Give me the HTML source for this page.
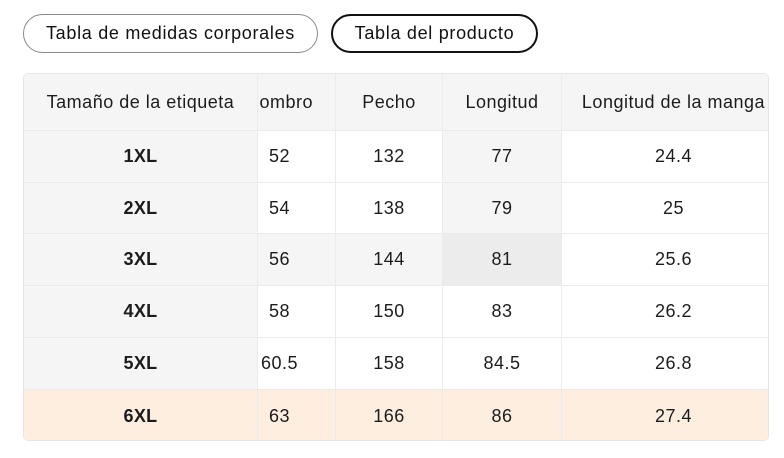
<!DOCTYPE html>
<html><head><meta charset="utf-8">
<style>
html,body{margin:0;padding:0;background:#fff;}
body{width:784px;height:458px;position:relative;overflow:hidden;font-family:"Liberation Sans",Arial,sans-serif;color:#1c1c1c;}
.btn{position:absolute;top:14px;height:39px;box-sizing:border-box;border-radius:20px;font-size:18px;letter-spacing:0.7px;display:flex;align-items:center;justify-content:center;background:#fff;color:#111;}
#tbl{position:absolute;left:23px;top:73px;width:746px;height:368px;box-sizing:border-box;border:1px solid #e6e6e6;border-radius:5px;overflow:hidden;background:#fff;}
.c{position:absolute;box-sizing:border-box;border-right:1px solid #ebebeb;border-bottom:1px solid #ebebeb;display:flex;align-items:center;justify-content:center;font-size:18px;letter-spacing:0.5px;white-space:nowrap;}
.lab{font-weight:bold;background:#f5f5f5;z-index:2;letter-spacing:0.3px;}
.hd{background:#f5f5f5;}
.g{background:#f5f5f5;}
.h{background:#ececec;}
.p{background:#fdeee0;}
</style></head><body>
<div class="btn" style="left:23px;width:295px;border:1px solid #8a8a8a;">Tabla de medidas corporales</div>
<div class="btn" style="left:331px;width:207px;border:2px solid #111;">Tabla del producto</div>

<div id="tbl">
<!-- header: y 0..57 -->
<div class="c hd" style="left:200px;top:0;width:112px;height:57px;">Hombro</div>
<div class="c hd" style="left:312px;top:0;width:107px;height:57px;">Pecho</div>
<div class="c hd" style="left:419px;top:0;width:119px;height:57px;">Longitud</div>
<div class="c hd" style="left:538px;top:0;width:223px;height:57px;border-right:none;">Longitud de la manga</div>
<div class="c lab hd" style="left:0;top:0;width:234px;height:57px;font-weight:normal;letter-spacing:0.5px;">Tamaño de la etiqueta</div>

<!-- row1 y 57..109 -->
<div class="c lab" style="left:0;top:57px;width:234px;height:52px;">1XL</div>
<div class="c" style="left:200px;top:57px;width:112px;height:52px;">52</div>
<div class="c" style="left:312px;top:57px;width:107px;height:52px;">132</div>
<div class="c g" style="left:419px;top:57px;width:119px;height:52px;">77</div>
<div class="c" style="left:538px;top:57px;width:223px;height:52px;border-right:none;">24.4</div>

<!-- row2 y 109..160 -->
<div class="c lab" style="left:0;top:109px;width:234px;height:51px;">2XL</div>
<div class="c" style="left:200px;top:109px;width:112px;height:51px;">54</div>
<div class="c" style="left:312px;top:109px;width:107px;height:51px;">138</div>
<div class="c g" style="left:419px;top:109px;width:119px;height:51px;">79</div>
<div class="c" style="left:538px;top:109px;width:223px;height:51px;border-right:none;">25</div>

<!-- row3 y 160..212 -->
<div class="c lab" style="left:0;top:160px;width:234px;height:52px;">3XL</div>
<div class="c g" style="left:200px;top:160px;width:112px;height:52px;">56</div>
<div class="c g" style="left:312px;top:160px;width:107px;height:52px;">144</div>
<div class="c h" style="left:419px;top:160px;width:119px;height:52px;">81</div>
<div class="c" style="left:538px;top:160px;width:223px;height:52px;border-right:none;">25.6</div>

<!-- row4 y 212..264 -->
<div class="c lab" style="left:0;top:212px;width:234px;height:52px;">4XL</div>
<div class="c" style="left:200px;top:212px;width:112px;height:52px;">58</div>
<div class="c" style="left:312px;top:212px;width:107px;height:52px;">150</div>
<div class="c" style="left:419px;top:212px;width:119px;height:52px;">83</div>
<div class="c" style="left:538px;top:212px;width:223px;height:52px;border-right:none;">26.2</div>

<!-- row5 y 264..316 -->
<div class="c lab" style="left:0;top:264px;width:234px;height:52px;">5XL</div>
<div class="c" style="left:200px;top:264px;width:112px;height:52px;">60.5</div>
<div class="c" style="left:312px;top:264px;width:107px;height:52px;">158</div>
<div class="c" style="left:419px;top:264px;width:119px;height:52px;">84.5</div>
<div class="c" style="left:538px;top:264px;width:223px;height:52px;border-right:none;">26.8</div>

<!-- row6 y 316..366 -->
<div class="c lab p" style="left:0;top:316px;width:234px;height:52px;border-bottom:none;">6XL</div>
<div class="c p" style="left:200px;top:316px;width:112px;height:52px;border-bottom:none;">63</div>
<div class="c p" style="left:312px;top:316px;width:107px;height:52px;border-bottom:none;">166</div>
<div class="c p" style="left:419px;top:316px;width:119px;height:52px;border-bottom:none;">86</div>
<div class="c p" style="left:538px;top:316px;width:223px;height:52px;border-right:none;border-bottom:none;">27.4</div>
</div>
</body></html>
